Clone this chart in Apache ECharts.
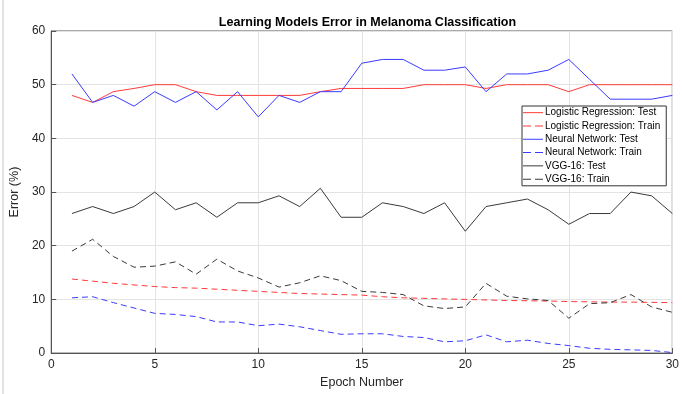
<!DOCTYPE html>
<html>
<head>
<meta charset="utf-8">
<script src="https://cdn.jsdelivr.net/npm/echarts@6/dist/echarts.min.js"></script>
<style>
html,body{margin:0;padding:0;background:#fff;}
#c{width:682px;height:394px;}
</style>
</head>
<body>
<div id="c"></div>
<script>
const epochs = [1,2,3,4,5,6,7,8,9,10,11,12,13,14,15,16,17,18,19,20,21,22,23,24,25,26,27,28,29,30];
const lrTest  = [48,46.7,48.7,49.3,50,50,48.7,48,48,48,48,48,48.7,49.3,49.3,49.3,49.3,50,50,50,49.3,50,50,50,48.7,50,50,50,50,50];
const lrTrain = [13.8,13.4,13.0,12.7,12.4,12.2,12.1,11.9,11.7,11.5,11.3,11.1,11.0,10.9,10.8,10.5,10.3,10.2,10.1,10.0,9.9,9.8,9.75,9.7,9.6,9.55,9.5,9.5,9.45,9.4];
const nnTest  = [52,46.7,48,46,48.7,46.7,48.7,45.3,48.7,44,48,46.7,48.7,48.7,54,54.7,54.7,52.7,52.7,53.3,48.7,52,52,52.7,54.7,51,47.3,47.3,47.3,48];
const nnTrain = [10.3,10.5,9.4,8.4,7.4,7.2,6.8,5.8,5.8,5.1,5.4,4.9,4.2,3.5,3.6,3.6,3.1,2.9,2.1,2.3,3.4,2.1,2.4,1.8,1.4,0.9,0.7,0.6,0.5,0.1];
const vggTest = [26,27.3,26,27.3,30,26.7,28,25.3,28,28,29.3,27.3,30.7,25.3,25.3,28,27.3,26,28,22.7,27.3,28,28.7,26.7,24,26,26,30,29.3,26];
const vggTrain= [19,21.2,18,16,16.2,17,14.7,17.5,15.3,14,12.3,13.1,14.4,13.5,11.5,11.3,10.9,8.8,8.3,8.6,13,10.6,10.1,9.8,6.5,9.2,9.4,10.9,8.6,7.6];
const names = ['Logistic Regression: Test','Logistic Regression: Train','Neural Network: Test','Neural Network: Train','VGG-16: Test','VGG-16: Train'];
const xTicks = [0,5,10,15,20,25,30];
const yTicks = [0,10,20,30,40,50,60];

const pair = arr => epochs.map((e,i)=>[e,arr[i]]);
const RED='#ff3b3b', BLUE='#3b3bff', GRAY='#3a3a3a';
const SOLID_ICON='path://M0,0h20v1h-20z';
const DASH_ICON='path://M0,0h8v1h-8z M12,0h8v1h-8z';
function mk(name, arr, color, dashed){
  return {name:name,type:'line',data:pair(arr),symbol:'none',showSymbol:false,
    lineStyle:{color:color,width:1,type:dashed?[6,4]:'solid'},itemStyle:{color:color},
    emphasis:{disabled:true},animation:false};
}
const FONT='"Liberation Sans", Arial, Helvetica, sans-serif';
const chart = echarts.init(document.getElementById('c'),null,{renderer:'canvas'});
chart.setOption({
  animation:false,
  backgroundColor:'#fff',
  title:{text:'Learning Models Error in Melanoma Classification',left:362.5,top:11,textAlign:'center',
    textStyle:{fontFamily:FONT,fontSize:12.5,fontWeight:'bold',color:'#000'}},
  grid:{left:48,right:5,top:31,bottom:40,show:true,borderColor:'#555',borderWidth:1,backgroundColor:'transparent'},
  xAxis:{type:'value',min:0,max:30,interval:5,
    name:'Epoch Number',nameLocation:'middle',nameGap:22,
    nameTextStyle:{fontFamily:FONT,fontSize:12.5,color:'#262626'},
    axisLine:{show:true,lineStyle:{color:'#555',width:1}},
    axisTick:{show:true,inside:true,length:5,lineStyle:{color:'#555'}},
    axisLabel:{fontFamily:FONT,fontSize:12,color:'#262626',margin:6,formatter:v=>xTicks.includes(v)?String(v):''},
    splitLine:{show:true,lineStyle:{color:'#e3e3e3',width:1}}},
  yAxis:{type:'value',min:0,max:60,interval:10,
    name:'Error (%)',nameLocation:'middle',nameGap:22,nameRotate:90,
    nameTextStyle:{fontFamily:FONT,fontSize:12.5,color:'#262626'},
    axisLine:{show:true,lineStyle:{color:'#555',width:1}},
    axisTick:{show:true,inside:true,length:5,lineStyle:{color:'#555'}},
    axisLabel:{fontFamily:FONT,fontSize:12,color:'#262626',margin:6,formatter:v=>yTicks.includes(v)?String(v):''},
    splitLine:{show:true,lineStyle:{color:'#e3e3e3',width:1}}},
  legend:{orient:'vertical',left:522,top:106,
    data:[
      {name:names[0],icon:SOLID_ICON,itemStyle:{color:RED}},
      {name:names[1],icon:DASH_ICON,itemStyle:{color:RED}},
      {name:names[2],icon:SOLID_ICON,itemStyle:{color:BLUE}},
      {name:names[3],icon:DASH_ICON,itemStyle:{color:BLUE}},
      {name:names[4],icon:SOLID_ICON,itemStyle:{color:GRAY}},
      {name:names[5],icon:DASH_ICON,itemStyle:{color:GRAY}}
    ],
    backgroundColor:'#fff',borderColor:'#333',borderWidth:1,padding:[0,6,0,1],
    itemWidth:20,itemHeight:1,itemGap:0,
    textStyle:{fontFamily:FONT,fontSize:10,color:'#000',lineHeight:13.3,padding:[0,0,0,-3]},
    selectedMode:false},
  graphic:[{type:'line',shape:{x1:3,y1:0,x2:3,y2:394},style:{stroke:'#c8c8c8',lineWidth:1},silent:true}],
  series:[
    mk(names[0],lrTest,RED,false),
    mk(names[1],lrTrain,RED,true),
    mk(names[2],nnTest,BLUE,false),
    mk(names[3],nnTrain,BLUE,true),
    mk(names[4],vggTest,GRAY,false),
    mk(names[5],vggTrain,GRAY,true)
  ]
});
</script>
</body>
</html>
